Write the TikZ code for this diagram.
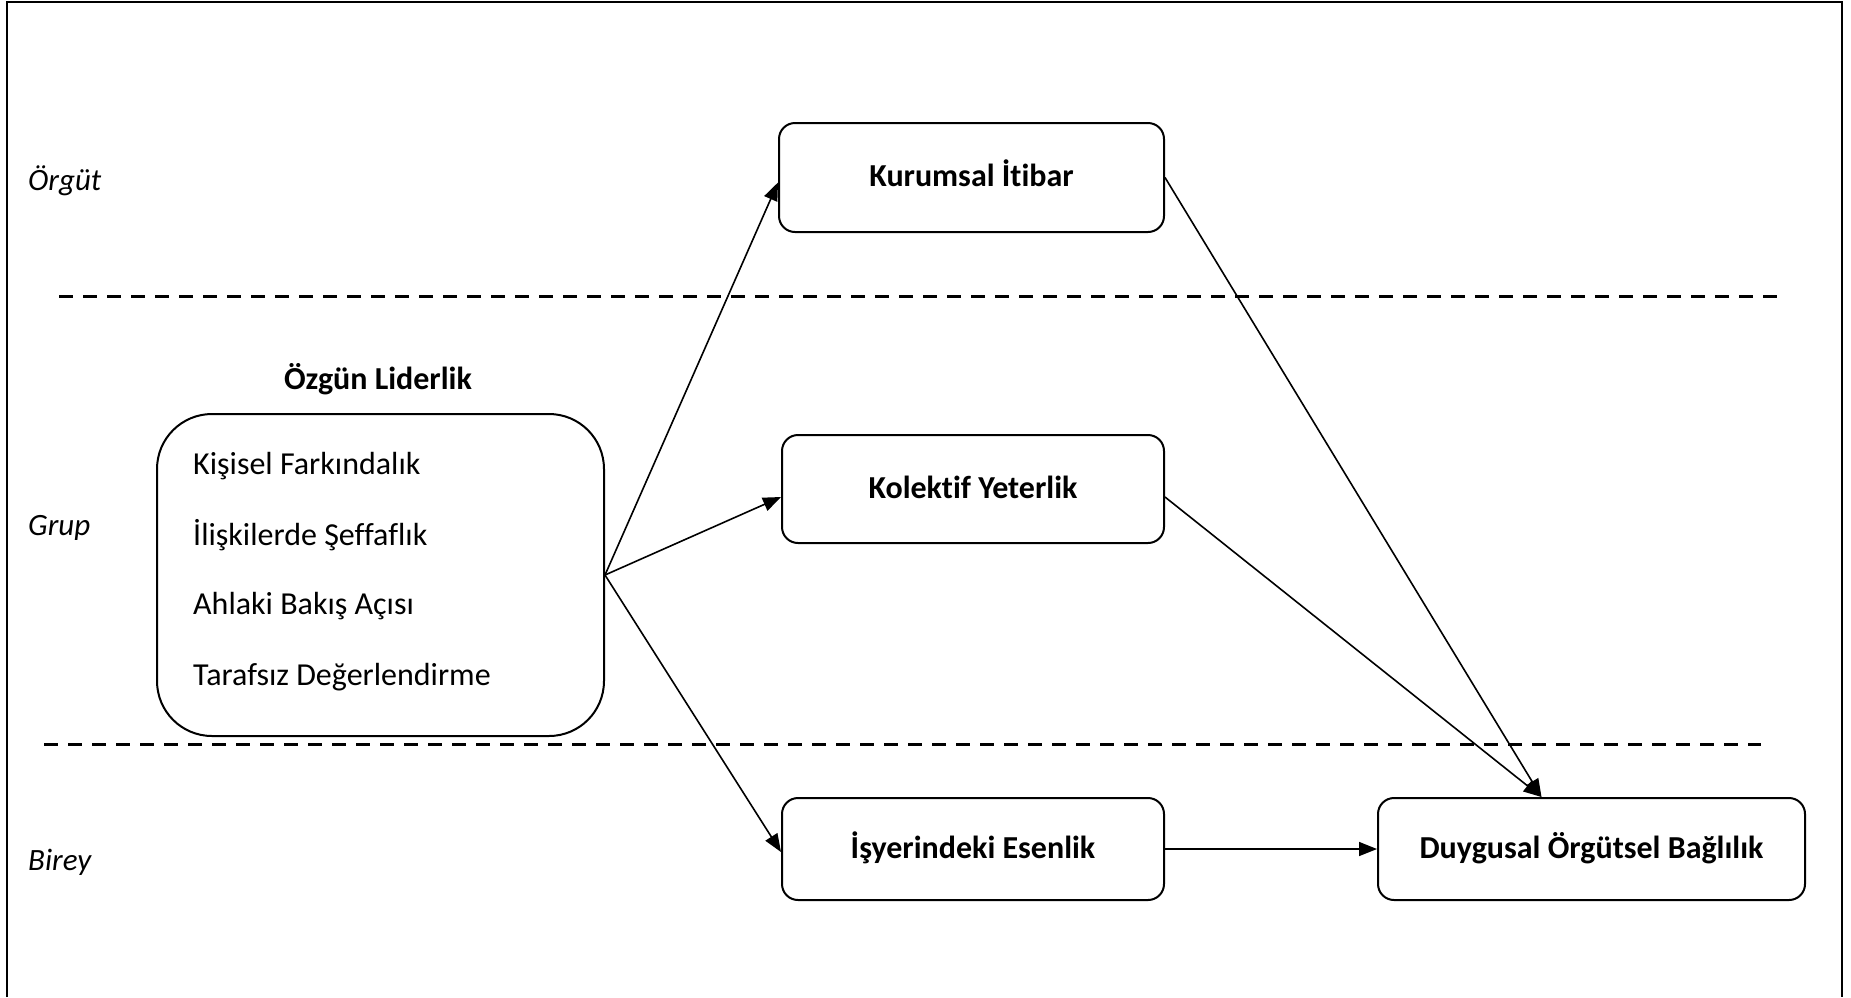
\documentclass[tikz,border=0pt]{standalone}
\usepackage{fontspec}
\setmainfont{Carlito}[Ligatures=NoCommon]
\usetikzlibrary{arrows.meta,calc}
\begin{document}
\begin{tikzpicture}[x=1pt,y=-1pt,
  box/.style={draw,line width=2pt,rounded corners=16pt,inner sep=0pt,align=center,text height=25pt,text depth=7pt,font=\fontsize{32}{38}\selectfont\bfseries},
  bigbox/.style={draw,line width=2pt,rounded corners=55pt,inner sep=0pt},
  item/.style={anchor=west,inner sep=0pt,font=\fontsize{32}{38}\selectfont},
  level/.style={anchor=west,inner sep=0pt,font=\fontsize{31}{37}\selectfont\itshape},
  sep/.style={line width=3pt,dash pattern=on 14pt off 10pt},
  arr/.style={line width=1.6pt,-{Triangle[length=18pt,width=14pt]}}]
\useasboundingbox (0,0) rectangle (1851,997);
% frame
\draw[line width=2.2pt] (7,997) -- (7,2) -- (1842,2) -- (1842,997);
% level labels
\node[level] (org) at (28,181) {Örgüt};
\node[level] (grp) at (28,528) {Grup};
\node[level] (bir) at (28,862) {Birey};
% separators
\coordinate (s1a) at (59,296); \coordinate (s1b) at (1777,296);
\coordinate (s2a) at (44,744); \coordinate (s2b) at (1761,744);
\draw[sep] (s1a) -- (s1b);
\draw[sep] (s2a) -- (s2b);
% authentic leadership
\node[bigbox,minimum width=447pt,minimum height=322pt] (oz) at (380.5,575) {};
\node[inner sep=0pt,font=\fontsize{32}{38}\selectfont\bfseries] (ozt) at (378,379) {Özgün Liderlik};
\node[item] (i1) at (193,466) {Kişisel Farkındalık};
\node[item] (i2) at (193,535) {İlişkilerde Şeffaflık};
\node[item] (i3) at (193,606) {Ahlaki Bakış Açısı};
\node[item] (i4) at (193,677) {Tarafsız Değerlendirme};
% mediators and outcome
\node[box,minimum width=385pt,minimum height=109pt] (ku) at (971.5,177.5) {Kurumsal İtibar};
\node[box,minimum width=382pt,minimum height=108pt] (ko) at (973,489) {Kolektif Yeterlik};
\node[box,minimum width=382pt,minimum height=102pt] (is) at (973,849) {İşyerindeki Esenlik};
\node[box,minimum width=427pt,minimum height=102pt] (du) at (1591.5,849) {Duygusal Örgütsel Bağlılık};
\coordinate (dutop) at ($(du.north)+(-50,0)$);
% connectors
\draw[arr] (oz.east) -- ($(ku.west)+(0,5)$);
\draw[arr] (oz.east) -- ($(ko.west)+(0,8)$);
\draw[arr] (oz.east) -- ($(is.west)+(0,3)$);
\draw[arr] (ku.east) -- (dutop);
\draw[arr] ($(ko.east)+(0,8)$) -- (dutop);
\draw[arr] (is.east) -- (du.west);
\end{tikzpicture}
\end{document}
